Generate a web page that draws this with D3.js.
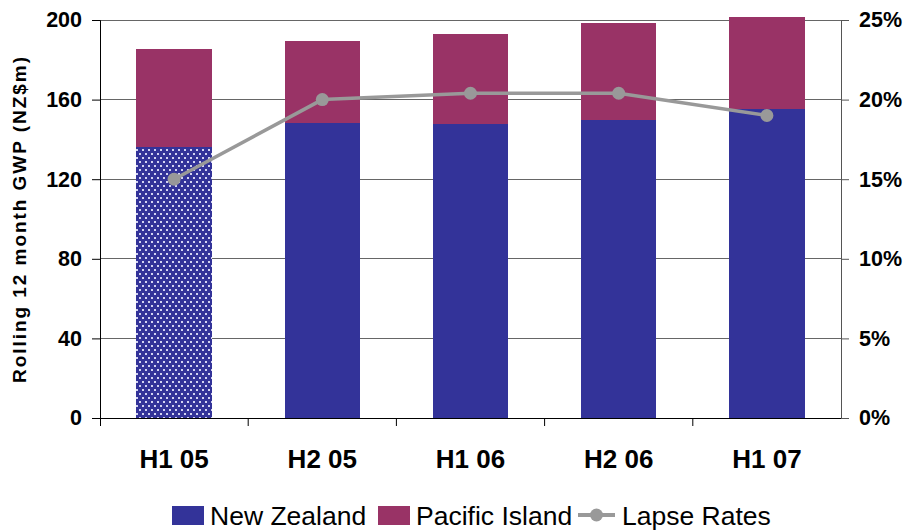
<!DOCTYPE html>
<html>
<head>
<meta charset="utf-8">
<script src="https://cdn.jsdelivr.net/npm/d3@7"></script>
<style>
  html, body { margin: 0; padding: 0; background: #fff; }
  svg { display: block; font-family: "Liberation Sans", Arial, sans-serif; }
</style>
</head>
<body>
<svg id="chart" width="911" height="530"></svg>
<script>
// Half-year periods
const categories = ["H1 05", "H2 05", "H1 06", "H2 06", "H1 07"];
// Rolling 12 month GWP (NZ$m)
const newZealand = [136, 148, 147.5, 150, 155.5];
const pacificIsland = [49.5, 41.5, 45.5, 48.5, 46];
// Lapse rates (%)
const lapseRates = [15.0, 20.0, 20.4, 20.4, 19.0];
// Axis ticks
const leftTicks = [0, 40, 80, 120, 160, 200];
const rightTicks = [0, 5, 10, 15, 20, 25];

const colors = { nz: "#333399", pi: "#993366", lapse: "#999999" };

const svg = d3.select("#chart");
const m = { left: 100, right: 70, top: 20, bottom: 112 };
const W = 911, H = 530;

const x = d3.scaleBand().domain(categories).range([m.left, W - m.right]).paddingInner(0.49).paddingOuter(0.245);
const y = d3.scaleLinear().domain([0, 200]).range([H - m.bottom, m.top]);
const y2 = d3.scaleLinear().domain([0, 25]).range([H - m.bottom, m.top]);

// Dotted fill for the first New Zealand bar
const defs = svg.append("defs");
const pat = defs.append("pattern").attr("id", "dots").attr("patternUnits", "userSpaceOnUse")
  .attr("width", 6).attr("height", 8);
pat.append("rect").attr("width", 6).attr("height", 8).attr("fill", colors.nz);
pat.append("rect").attr("x", 1).attr("y", 1).attr("width", 2).attr("height", 2).attr("fill", "#d4d4f2");
pat.append("rect").attr("x", 4).attr("y", 5).attr("width", 2).attr("height", 2).attr("fill", "#d4d4f2");

// Gridlines
svg.append("g").selectAll("line").data(leftTicks.filter(d => d > 0)).join("line")
  .attr("x1", m.left).attr("x2", W - m.right)
  .attr("y1", d => y(d)).attr("y2", d => y(d))
  .attr("stroke", "#666").attr("stroke-width", 1).attr("shape-rendering", "crispEdges");

// Stacked bars
const stackData = categories.map((c, i) => ({ cat: c, nz: newZealand[i], pi: pacificIsland[i] }));
const stack = d3.stack().keys(["nz", "pi"])(stackData);
svg.append("g").selectAll("g").data(stack).join("g")
  .selectAll("rect").data(s => s.map(d => ({ key: s.key, d }))).join("rect")
  .attr("x", o => x(o.d.data.cat))
  .attr("width", x.bandwidth())
  .attr("y", o => y(o.d[1]))
  .attr("height", o => y(o.d[0]) - y(o.d[1]))
  .attr("fill", (o, i) => o.key === "nz" ? (i === 0 ? "url(#dots)" : colors.nz) : colors.pi)
  .attr("shape-rendering", "crispEdges");

// Axes
const tickFont = g => g.selectAll("text").attr("font-size", 21.5).attr("font-weight", "bold").attr("fill", "#000");
const leftAxis = svg.append("g").attr("transform", `translate(${m.left},0)`)
  .call(d3.axisLeft(y).tickValues(leftTicks).tickSize(8).tickPadding(10));
leftAxis.call(tickFont);
const rightAxis = svg.append("g").attr("transform", `translate(${W - m.right},0)`)
  .call(d3.axisRight(y2).tickValues(rightTicks).tickFormat(d => d + "%").tickSize(8).tickPadding(10));
rightAxis.call(tickFont);
const bottomAxis = svg.append("g").attr("transform", `translate(0,${y(0)})`)
  .call(d3.axisBottom(x).tickSize(0).tickPadding(32));
bottomAxis.selectAll("text").attr("font-size", 26).attr("font-weight", "bold").attr("fill", "#000");
bottomAxis.select(".domain").attr("d", `M${m.left - 8},0.5H${W - m.right}`);
// Category separator ticks on the x axis
svg.append("g").selectAll("line").data(categories.slice(1)).join("line")
  .attr("x1", d => x(d) - x.step() * x.paddingInner() / 2).attr("x2", d => x(d) - x.step() * x.paddingInner() / 2)
  .attr("y1", y(0)).attr("y2", y(0) + 8).attr("stroke", "#000");
svg.append("line").attr("x1", m.left + 0.5).attr("x2", m.left + 0.5).attr("y1", y(0)).attr("y2", y(0) + 8).attr("stroke", "#000");
[leftAxis, rightAxis, bottomAxis].forEach(a => a.selectAll("path, line").attr("stroke", "#000"));
rightAxis.selectAll("path, line").attr("stroke", "#555");

// Left axis title
svg.append("text")
  .attr("transform", `translate(26,220) rotate(-90)`)
  .attr("text-anchor", "middle").attr("font-size", 19).attr("font-weight", "bold")
  .attr("textLength", 326).attr("lengthAdjust", "spacing")
  .text("Rolling 12 month GWP (NZ$m)");

// Lapse rate line
const line = d3.line().x((d, i) => x(categories[i]) + x.bandwidth() / 2).y(d => y2(d));
svg.append("path").datum(lapseRates).attr("d", line)
  .attr("fill", "none").attr("stroke", colors.lapse).attr("stroke-width", 3.5);
svg.append("g").selectAll("circle").data(lapseRates).join("circle")
  .attr("cx", (d, i) => x(categories[i]) + x.bandwidth() / 2).attr("cy", d => y2(d))
  .attr("r", 6.5).attr("fill", colors.lapse);

// Legend
const legend = svg.append("g").attr("transform", "translate(0,515)");
const items = [
  { label: "New Zealand", type: "rect", color: colors.nz, x: 172 },
  { label: "Pacific Island", type: "rect", color: colors.pi, x: 378 },
  { label: "Lapse Rates", type: "line", color: colors.lapse, x: 578 }
];
items.forEach(it => {
  const g = legend.append("g").attr("transform", `translate(${it.x},0)`);
  if (it.type === "rect") {
    g.append("rect").attr("x", 0).attr("y", -9).attr("width", 32).attr("height", 19).attr("fill", it.color);
    g.append("text").attr("x", 38).attr("y", 10).attr("font-size", 26.5).text(it.label);
  } else {
    g.append("line").attr("x1", 0).attr("x2", 37).attr("y1", 0).attr("y2", 0).attr("stroke", it.color).attr("stroke-width", 4);
    g.append("circle").attr("cx", 18.5).attr("cy", 0).attr("r", 6.5).attr("fill", it.color);
    g.append("text").attr("x", 44).attr("y", 10).attr("font-size", 26.5).text(it.label);
  }
});
</script>
</body>
</html>
